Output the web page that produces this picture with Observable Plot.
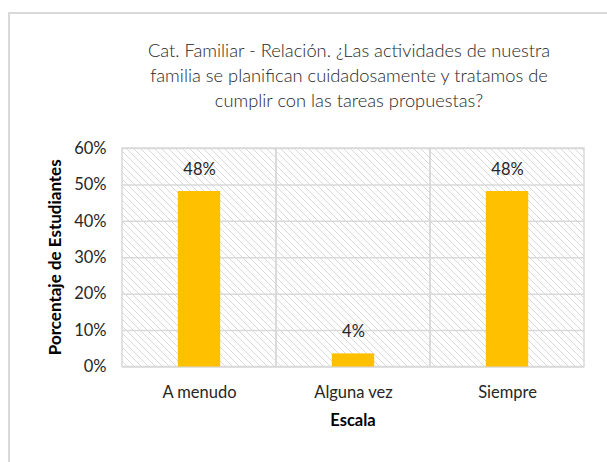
<!DOCTYPE html>
<html>
<head>
<meta charset="utf-8">
<script src="https://cdn.jsdelivr.net/npm/d3@7"></script>
<script src="https://cdn.jsdelivr.net/npm/@observablehq/plot@0.6"></script>
<style>
  html, body { margin: 0; padding: 0; background: #fff; }
  body { width: 607px; height: 462px; overflow: hidden; position: relative; font-family: Lato, "Open Sans", sans-serif; }
  #frame { position: absolute; left: 8px; top: 12px; width: 640px; height: 500px; border-left: 2px solid #d9d9d9; border-top: 2px solid #d9d9d9; }
  #title { position: absolute; left: 99px; width: 500px; top: 38px; text-align: center; font-size: 18.3px; line-height: 25px; color: #262626; font-weight: 300; }
  #chart { position: absolute; left: 0; top: 120px; }
</style>
</head>
<body>
<div id="frame"></div>
<div id="title">Cat. Familiar - Relación. ¿Las actividades de nuestra<br>familia se planifican cuidadosamente y tratamos de<br>cumplir con las tareas propuestas?</div>
<div id="chart"></div>
<script>
const categories = ["A menudo", "Alguna vez", "Siempre"];
const values = [48.2, 3.6, 48.2];
const labels = ["48%", "4%", "48%"];
const yTicks = [0, 10, 20, 30, 40, 50, 60];
const yMax = 60;

const data = categories.map((c, i) => ({cat: c, value: values[i], label: labels[i], top: yMax}));

const W = 607, H = 330;
const bandW = (W - 122 - 23) / categories.length;
const barW = 42.4;
const inset = (bandW - barW) / 2;

const plot = Plot.plot({
  width: W,
  height: H,
  marginTop: 28,
  marginBottom: 83.5,
  marginLeft: 122,
  marginRight: 23,
  style: {fontFamily: "Lato, 'Open Sans', sans-serif", fontSize: "16.5px", color: "#262626", background: "transparent"},
  x: {domain: categories, padding: 0, label: null, tickSize: 0, tickPadding: 19},
  y: {domain: [0, yMax], ticks: yTicks, tickFormat: d => d + "%", tickSize: 0, tickPadding: 16, label: null},
  marks: [
    Plot.barY(data, {x: "cat", y: "top", fill: "url(#hatch)"}),
    Plot.gridY(yTicks, {stroke: "#d9d9d9", strokeOpacity: 1, strokeWidth: 1.5}),
    Plot.barY(data, {x: "cat", y: "top", fill: "none", stroke: "#d9d9d9", strokeWidth: 1.5}),
    Plot.barY(data, {x: "cat", y: "value", fill: "#ffc000", insetLeft: inset, insetRight: inset}),
    Plot.text(data, {x: "cat", y: "value", text: "label", dy: -22, fill: "#262626", fontSize: 16.5})
  ]
});

const svg = d3.select(plot);
const defs = svg.insert("defs", ":first-child");
const pat = defs.append("pattern").attr("id", "hatch").attr("patternUnits", "userSpaceOnUse").attr("width", 7).attr("height", 7);
pat.append("rect").attr("width", 7).attr("height", 7).attr("fill", "#fff");
pat.append("path").attr("d", "M-1,-1 L8,8 M-4.5,2.5 L1,8 M2.5,-4.5 L8,1").attr("stroke", "#dadada").attr("stroke-width", 1).attr("fill", "none");

// axis labels
svg.append("text")
  .attr("transform", `translate(57, ${(28 + (H - 83.5)) / 2}) rotate(-90)`)
  .attr("text-anchor", "middle").attr("dominant-baseline", "middle")
  .attr("font-weight", "bold").attr("font-size", 17).attr("fill", "#000")
  .text("Porcentaje de Estudiantes");
svg.append("text")
  .attr("x", (122 + W - 23) / 2).attr("y", 302)
  .attr("text-anchor", "middle").attr("dominant-baseline", "middle")
  .attr("font-weight", "bold").attr("font-size", 16.5).attr("fill", "#000")
  .text("Escala");

document.getElementById("chart").appendChild(plot);
</script>
</body>
</html>
